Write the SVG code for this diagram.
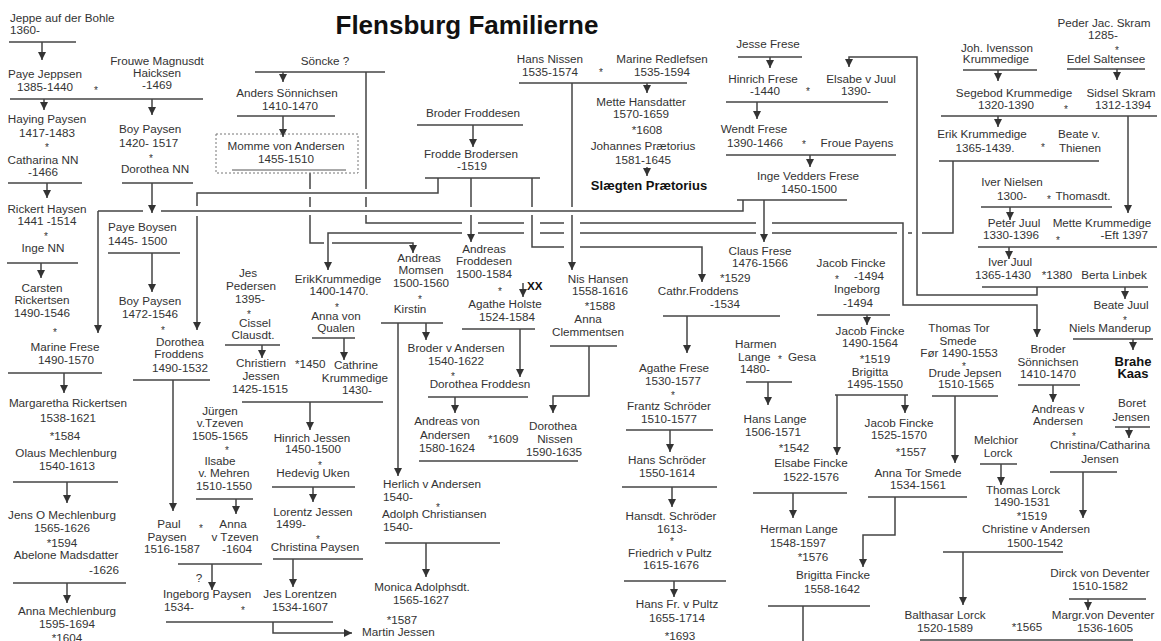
<svg xmlns="http://www.w3.org/2000/svg" width="1161" height="641" viewBox="0 0 1161 641">
<defs>
<marker id="ah" markerUnits="userSpaceOnUse" markerWidth="9" markerHeight="9" refX="8" refY="4" orient="auto"><path d="M0,0 L8,4 L0,8 z" fill="#333"/></marker>
<style>
text{font-family:"Liberation Sans",Arial,sans-serif;font-size:11.7px;fill:#333;text-anchor:middle}
.l{text-anchor:start}.r{text-anchor:end}
.b{font-weight:bold;fill:#111}
.s{font-size:10px}
.ttl{font-size:26px;font-weight:bold;fill:#111}
.c path{stroke:#444;stroke-width:1.5;fill:none}
.c .a{marker-end:url(#ah)}
.box{fill:none;stroke:#777;stroke-width:1;stroke-dasharray:2 2}
</style>
</defs>
<rect width="1161" height="641" fill="#fff"/>
<text class="ttl" x="467" y="34">Flensburg Familierne</text>

<g id="connectors" class="c">
<path d="M9,42H76"/><path class="a" d="M42,42V60"/>
<path d="M10,99H203"/><path class="a" d="M44,99V110"/><path class="a" d="M152,99V115"/>
<path d="M8,183H82"/><path class="a" d="M47,183V198"/>
<path d="M122,183H193"/><path class="a" d="M152,183V213"/>
<path d="M7,263H78"/><path class="a" d="M41,263V278"/>
<path d="M98,211H143M161,211H743V200"/><path class="a" d="M98,211V333"/>
<path d="M108,253H180"/><path class="a" d="M152,253V292"/>
<path d="M8,373H102"/><path class="a" d="M64,373V393"/>
<path d="M13,482H118"/><path class="a" d="M67,482V503"/>
<path d="M13,583H126"/><path class="a" d="M67,583V603"/>
<path d="M438,178V193H197V206"/><path class="a" d="M197,216V330"/>
<path d="M133,380H210"/><path class="a" d="M173,380V511"/>
<path d="M225,345H280"/><path class="a" d="M262,345V358"/>
<path d="M242,402H383"/><path class="a" d="M310,402V430"/>
<path d="M196,499H253"/><path class="a" d="M236,499V514"/>
<path d="M178,564H262"/><path class="a" d="M212,564V590"/>
<path d="M272,487H355"/><path class="a" d="M313,487V502"/>
<path d="M273,559H363"/><path class="a" d="M293,559V587"/>
<path d="M166,622H333"/><path class="a" d="M273,622V633H352"/>
<path d="M255,72H385"/><path class="a" d="M283,72V82"/>
<path d="M366,72V189M366,197V207M366,215V223H462M478,223H524M540,223H564M580,223H756"/>
<path class="a" d="M772,223H903V305H1037V337"/>
<path d="M237,116H335"/><path class="a" d="M283,116V137"/>
<path d="M310,173V189M310,197V207M310,215V243H324"/><path class="a" d="M332,243H413V253"/>
<path d="M417,125H523"/><path class="a" d="M473,125V147"/>
<path d="M425,178H540M471,178V207M532,178V207"/><path class="a" d="M471,215V242"/>
<path d="M532,215V247H564"/><path class="a" d="M580,247H702V282"/>
<path d="M953,161V233H922M912,233H908M897,233H772M756,233H580M564,233H540M524,233H478"/><path class="a" d="M462,233H328V270"/>
<path d="M519,83H687"/><path class="a" d="M647,83V93"/>
<path d="M572,83V207"/><path class="a" d="M572,215V270"/>
<path class="a" d="M647,167V176"/>
<path d="M738,57H802"/><path class="a" d="M770,57V68"/>
<path d="M726,102H888"/><path class="a" d="M757,102V119"/>
<path d="M726,155H896"/><path class="a" d="M810,155V167"/>
<path d="M737,200H847"/><path class="a" d="M764,200V242"/>
<path class="a" d="M1037,287V295H917V57H849V67"/>
<path d="M963,70H1037"/><path class="a" d="M998,70V81"/>
<path d="M1067,69H1145"/><path class="a" d="M1117,69V80"/>
<path d="M941,116H1157"/><path class="a" d="M998,116V127"/><path class="a" d="M1128,116V213"/>
<path d="M939,161H1099"/>
<path d="M981,207H1112"/><path class="a" d="M1010,207V220"/>
<path d="M978,247H1157"/><path class="a" d="M1009,247V259"/>
<path d="M982,287H1148"/><path class="a" d="M1125,287V299"/>
<path d="M1073,339H1153"/><path class="a" d="M1133,339V350"/>
<path d="M1018,385H1080"/><path class="a" d="M1053,385V402"/>
<path d="M1115,427H1150"/><path class="a" d="M1129,427V438"/>
<path d="M1050,472H1117"/><path class="a" d="M1083,472V518"/>
<path d="M980,464H1017"/><path class="a" d="M1001,464V485"/>
<path d="M943,552H1063"/><path class="a" d="M963,552V605"/>
<path d="M1069,599H1146"/><path class="a" d="M1088,599V610"/>
<path d="M920,640H1133"/>
<path d="M932,396H998"/><path class="a" d="M955,396V463"/>
<path d="M835,395H908"/><path class="a" d="M837,395V455"/><path class="a" d="M905,395V413"/>
<path d="M817,315H890"/><path class="a" d="M867,315V325"/>
<path d="M868,497H967"/><path class="a" d="M895,497V535H863V567"/>
<path d="M768,606H870M803,606V641"/>
<path d="M753,493H847"/><path class="a" d="M793,493V518"/>
<path d="M746,382H792"/><path class="a" d="M768,382V405"/>
<path d="M663,316H780"/><path class="a" d="M687,316V353"/>
<path d="M626,430H713"/><path class="a" d="M670,430V452"/>
<path d="M622,487H717"/><path class="a" d="M672,487V507"/>
<path d="M624,581H726"/><path class="a" d="M674,581V597"/>
<path d="M550,346H617"/><path class="a" d="M589,346V396H553V413"/>
<path d="M419,461H578"/>
<path d="M428,397H528"/><path class="a" d="M455,397V413"/>
<path d="M462,329H535"/><path class="a" d="M520,329V377"/><path class="a" d="M523,283V297"/>
<path d="M381,323H443"/><path class="a" d="M398,323V476"/><path class="a" d="M426,323V340"/>
<path d="M312,338H355"/><path class="a" d="M344,338V360"/>
<path d="M385,543H500"/><path class="a" d="M426,543V577"/>
</g>

<g id="jeppe"><text class="l" x="10" y="22">Jeppe auf der Bohle</text><text class="l" x="10" y="34">1360-</text></g>
<g id="paye"><text x="45" y="78">Paye Jeppsen</text><text x="45" y="91">1385-1440</text><text class="s" x="96" y="93.7">*</text><text x="157" y="65">Frouwe Magnusdt</text><text x="157" y="77">Haicksen</text><text x="157" y="89">-1469</text></g>
<g id="haying"><text x="47" y="123">Haying Paysen</text><text x="47" y="137">1417-1483</text><text class="s" x="47" y="150.7">*</text><text x="43" y="164">Catharina NN</text><text x="43" y="176">-1466</text></g>
<g id="boy1"><text class="l" x="119" y="133">Boy Paysen</text><text class="l" x="119" y="147">1420- 1517</text><text class="s" x="151" y="161.7">*</text><text x="155" y="173">Dorothea NN</text></g>
<g id="rickert"><text x="47" y="213">Rickert Haysen</text><text x="47" y="225">1441 -1514</text><text class="s" x="46" y="239.7">*</text><text x="43" y="252">Inge NN</text></g>
<g id="carsten"><text x="42" y="292">Carsten</text><text x="42" y="304">Rickertsen</text><text x="42" y="317">1490-1546</text><text class="s" x="55" y="335.7">*</text><text x="65" y="351">Marine Frese</text><text x="66" y="364">1490-1570</text></g>
<g id="margaretha"><text x="68" y="407">Margaretha Rickertsen</text><text x="68" y="422">1538-1621</text><text x="65" y="440">*1584</text><text x="66" y="457">Olaus Mechlenburg</text><text x="67" y="470">1540-1613</text></g>
<g id="jenso"><text x="62" y="519">Jens O Mechlenburg</text><text x="62" y="532">1565-1626</text><text x="62" y="547">*1594</text><text x="66" y="559">Abelone Madsdatter</text><text class="r" x="119" y="574">-1626</text></g>
<g id="annam"><text x="67" y="615">Anna Mechlenburg</text><text x="67" y="628">1595-1694</text><text x="67" y="642">*1604</text></g>
<g id="payeb"><text class="l" x="108" y="231">Paye Boysen</text><text class="l" x="108" y="245">1445- 1500</text></g>
<g id="boy2"><text x="150" y="305">Boy Paysen</text><text x="150" y="318">1472-1546</text><text class="s" x="163" y="333.7">*</text><text x="180" y="346">Dorothea</text><text x="179" y="358">Froddens</text><text x="180" y="372">1490-1532</text></g>
<g id="jes"><text x="248" y="277">Jes</text><text x="251" y="290">Pedersen</text><text x="250" y="303">1395-</text><text class="s" x="249" y="317.7">*</text><text x="255" y="327">Cissel</text><text x="253" y="339">Clausdt.</text></g>
<g id="christiern"><text x="261" y="367">Christiern</text><text x="261" y="380">Jessen</text><text x="260" y="393">1425-1515</text><text class="l" x="295" y="368">*1450</text><text x="356" y="369">Cathrine</text><text x="355" y="382">Krummedige</text><text x="357" y="394">1430-</text></g>
<g id="jurgen"><text x="220" y="415">Jürgen</text><text x="220" y="427">v.Tzeven</text><text x="220" y="440">1505-1565</text><text class="s" x="227" y="453.7">*</text><text x="220" y="465">Ilsabe</text><text x="224" y="477">v. Mehren</text><text x="224" y="490">1510-1550</text></g>
<g id="paul"><text x="169" y="528">Paul</text><text x="167" y="541">Paysen</text><text x="172" y="553">1516-1587</text><text class="s" x="201" y="531.7">*</text><text x="233" y="528">Anna</text><text x="235" y="541">v Tzeven</text><text x="237" y="553">-1604</text><text x="199" y="582">?</text></g>
<g id="ingeborg"><text class="l" x="163" y="598">Ingeborg Paysen</text><text class="l" x="164" y="611">1534-</text><text class="s" x="243" y="613.7">*</text><text x="300" y="598">Jes Lorentzen</text><text x="300" y="611">1534-1607</text></g>
<g id="martin"><text x="402" y="624">*1587</text><text class="l" x="362" y="636">Martin Jessen</text></g>
<g id="hinrichj"><text x="312" y="442">Hinrich Jessen</text><text x="313" y="453">1450-1500</text><text class="s" x="320" y="468.7">*</text><text x="313" y="477">Hedevig Uken</text></g>
<g id="lorentz"><text x="313" y="516">Lorentz Jessen</text><text class="l" x="276" y="528">1499-</text><text class="s" x="318" y="542.7">*</text><text x="315" y="551">Christina Paysen</text></g>
<g id="soncke"><text x="325" y="65">Söncke ?</text></g>
<g id="anders"><text x="287" y="97">Anders Sönnichsen</text><text x="290" y="110">1410-1470</text></g>
<g id="momme"><rect class="box" x="216" y="134" width="142" height="39"/><path d="M232,170H346" stroke="#555" stroke-width="1"/><text x="286" y="150">Momme von Andersen</text><text x="286" y="163">1455-1510</text></g>
<g id="erikk2"><text x="338" y="283">ErikKrummedige</text><text x="339" y="295">1400-1470.</text><text class="s" x="337" y="310.7">*</text><text x="336" y="320">Anna von</text><text x="336" y="332">Qualen</text></g>
<g id="andreasm"><text x="419" y="262">Andreas</text><text x="421" y="274">Momsen</text><text x="421" y="287">1500-1560</text><text class="s" x="420" y="302.7">*</text><text x="410" y="313">Kirstin</text></g>
<g id="brodera"><text x="456" y="352">Broder v Andersen</text><text x="456" y="365">1540-1622</text><text class="s" x="453" y="379.7">*</text><text x="480" y="388">Dorothea  Froddesn</text></g>
<g id="andreasv"><text x="447" y="425">Andreas von</text><text x="445" y="439">Andersen</text><text x="447" y="452">1580-1624</text><text class="l" x="488" y="443">*1609</text><text x="553" y="430">Dorothea</text><text x="555" y="443">Nissen</text><text x="554" y="456">1590-1635</text></g>
<g id="herlich"><text class="l" x="383" y="488">Herlich v Andersen</text><text class="l" x="383" y="501">1540-</text><text class="s" x="438" y="510.7">*</text><text class="l" x="382" y="518">Adolph Christiansen</text><text class="l" x="383" y="531">1540-</text></g>
<g id="monica"><text x="422" y="591">Monica Adolphsdt.</text><text x="421" y="604">1565-1627</text></g>
<g id="broderf"><text x="473" y="117">Broder Froddesen</text></g>
<g id="frodde"><text x="471" y="158">Frodde Brodersen</text><text x="472" y="170">-1519</text></g>
<g id="andreasf"><text x="484" y="253">Andreas</text><text x="484" y="265">Froddesen</text><text x="484" y="278">1500-1584</text><text class="s" x="500" y="294.7">*</text><text x="505" y="308">Agathe Holste</text><text x="507" y="321">1524-1584</text><text class="l b" x="527" y="290">XX</text></g>
<g id="hansn"><text x="550" y="63">Hans Nissen</text><text x="550" y="76">1535-1574</text><text class="s" x="601" y="75.7">*</text><text x="662" y="63">Marine Redlefsen</text><text x="662" y="76">1535-1594</text></g>
<g id="mette"><text x="641" y="106">Mette Hansdatter</text><text x="641" y="118">1570-1659</text><text x="647" y="134">*1608</text><text x="643" y="150">Johannes Prætorius</text><text x="643" y="164">1581-1645</text></g>
<g id="slaegten"><text class="b" x="649" y="190" style="font-size:13px">Slægten Prætorius</text></g>
<g id="nish"><text x="598" y="283">Nis Hansen</text><text x="600" y="295">1558-1616</text><text x="600" y="310">*1588</text><text x="588" y="323">Anna</text><text x="588" y="336">Clemmentsen</text></g>
<g id="jesse"><text x="768" y="48">Jesse Frese</text></g>
<g id="hinrichf"><text x="763" y="83">Hinrich Frese</text><text x="765" y="95">-1440</text><text class="s" x="808" y="94.7">*</text><text x="861" y="83">Elsabe v Juul</text><text x="856" y="95">1390-</text></g>
<g id="wendt"><text x="754" y="133">Wendt Frese</text><text x="755" y="147">1390-1466</text><text class="s" x="804" y="147.7">*</text><text x="857" y="147">Froue Payens</text></g>
<g id="inge"><text x="808" y="180">Inge Vedders Frese</text><text x="809" y="193">1450-1500</text></g>
<g id="claus"><text x="760" y="255">Claus Frese</text><text x="760" y="267">1476-1566</text><text class="l" x="720" y="282">*1529</text><text x="698" y="295">Cathr.Froddens</text><text x="725" y="308">-1534</text></g>
<g id="agathe"><text x="674" y="372">Agathe Frese</text><text x="673" y="385">1530-1577</text><text class="s" x="673" y="398.7">*</text><text x="669" y="410">Frantz Schröder</text><text x="669" y="423">1510-1577</text></g>
<g id="hanss"><text x="667" y="464">Hans Schröder</text><text x="667" y="477">1550-1614</text></g>
<g id="hansdt"><text x="671" y="520">Hansdt. Schröder</text><text x="672" y="533">1613-</text><text class="s" x="672" y="544.7">*</text><text x="670" y="557">Friedrich v Pultz</text><text x="671" y="569">1615-1676</text></g>
<g id="hansfr"><text x="677" y="608">Hans Fr. v Pultz</text><text x="677" y="622">1655-1714</text><text x="680" y="640">*1693</text></g>
<g id="harmen"><text class="l" x="735" y="348">Harmen</text><text class="l" x="738" y="361">Lange</text><text class="s" x="780" y="362.7">*</text><text class="l" x="788" y="361">Gesa</text><text class="l" x="740" y="373">1480-</text></g>
<g id="hansl"><text x="775" y="423">Hans Lange</text><text x="773" y="436">1506-1571</text><text x="794" y="452">*1542</text><text x="811" y="467">Elsabe Fincke</text><text x="811" y="481">1522-1576</text></g>
<g id="herman"><text x="799" y="533">Herman Lange</text><text x="798" y="547">1548-1597</text><text x="813" y="561">*1576</text><text x="833" y="579">Brigitta Fincke</text><text x="832" y="593">1558-1642</text></g>
<g id="jacobf1"><text x="851" y="267">Jacob Fincke</text><text class="s" x="837" y="282.7">*</text><text x="869" y="280">-1494</text><text x="857" y="293">Ingeborg</text><text x="858" y="307">-1494</text></g>
<g id="jacobf2"><text x="870" y="335">Jacob Fincke</text><text x="870" y="347">1490-1564</text><text x="875" y="363">*1519</text><text x="870" y="376">Brigitta</text><text x="875" y="388">1495-1550</text></g>
<g id="jacobf3"><text x="899" y="427">Jacob Fincke</text><text x="899" y="439">1525-1570</text><text x="911" y="456">*1557</text><text x="918" y="477">Anna Tor Smede</text><text x="918" y="489">1534-1561</text></g>
<g id="thomast"><text x="959" y="332">Thomas Tor</text><text x="958" y="345">Smede</text><text x="959" y="357">Før 1490-1553</text><text class="s" x="964" y="369.7">*</text><text x="965" y="377">Drude Jepsen</text><text x="966" y="388">1510-1565</text></g>
<g id="broders"><text x="1048" y="353">Broder</text><text x="1048" y="366">Sönnichsen</text><text x="1048" y="378">1410-1470</text></g>
<g id="andreasva"><text x="1058" y="413">Andreas v</text><text x="1058" y="425">Andersen</text><text class="s" x="1074" y="439.7">*</text><text x="1100" y="449">Christina/Catharina</text><text x="1100" y="463">Jensen</text></g>
<g id="boret"><text x="1132" y="407">Boret</text><text x="1131" y="421">Jensen</text></g>
<g id="melchior"><text x="996" y="444">Melchior</text><text x="998" y="457">Lorck</text></g>
<g id="thomasl"><text x="1023" y="494">Thomas Lorck</text><text x="1022" y="506">1490-1531</text><text x="1032" y="520">*1519</text><text x="1036" y="533">Christine v Andersen</text><text x="1035" y="547">1500-1542</text></g>
<g id="dirck"><text x="1100" y="577">Dirck von Deventer</text><text x="1100" y="590">1510-1582</text></g>
<g id="balthasar"><text x="945" y="619">Balthasar Lorck</text><text x="945" y="632">1520-1589</text><text x="1027" y="631">*1565</text><text x="1103" y="619">Margr.von  Deventer</text><text x="1105" y="632">1536-1605</text></g>
<g id="peder"><text x="1104" y="27">Peder Jac. Skram</text><text x="1103" y="39">1285-</text><text class="s" x="1117" y="53.7">*</text><text x="1106" y="63">Edel Saltensee</text></g>
<g id="joh"><text x="997" y="52">Joh. Ivensson</text><text x="996" y="63">Krummedige</text></g>
<g id="segebod"><text x="1014" y="97">Segebod Krummedige</text><text x="1006" y="109">1320-1390</text><text class="s" x="1066" y="112.7">*</text><text x="1121" y="97">Sidsel Skram</text><text x="1123" y="109">1312-1394</text></g>
<g id="erikk1"><text x="982" y="138">Erik Krummedige</text><text x="985" y="152">1365-1439.</text><text class="s" x="1043" y="150.7">*</text><text x="1079" y="138">Beate v.</text><text x="1080" y="152">Thienen</text></g>
<g id="ivern"><text x="1012" y="186">Iver Nielsen</text><text x="1012" y="200">1300-</text><text class="s" x="1049" y="202.7">*</text><text x="1083" y="200">Thomasdt.</text></g>
<g id="peterj"><text x="1014" y="227">Peter Juul</text><text x="1011" y="239">1330-1396</text><text class="s" x="1058" y="244.2">*</text><text x="1102" y="227">Mette Krummedige</text><text class="r" x="1148" y="239">-Eft 1397</text></g>
<g id="iverj"><text x="1010" y="266">Iver Juul</text><text x="1003" y="279">1365-1430</text><text x="1057" y="279">*1380</text><text x="1114" y="279">Berta Linbek</text></g>
<g id="beate"><text x="1121" y="309">Beate Juul</text><text class="s" x="1125" y="323.7">*</text><text x="1110" y="332">Niels Manderup</text></g>
<g id="brahe"><text class="b" x="1133" y="366" style="font-size:13px">Brahe</text><text class="b" x="1133" y="378" style="font-size:13px">Kaas</text></g>
</svg>
